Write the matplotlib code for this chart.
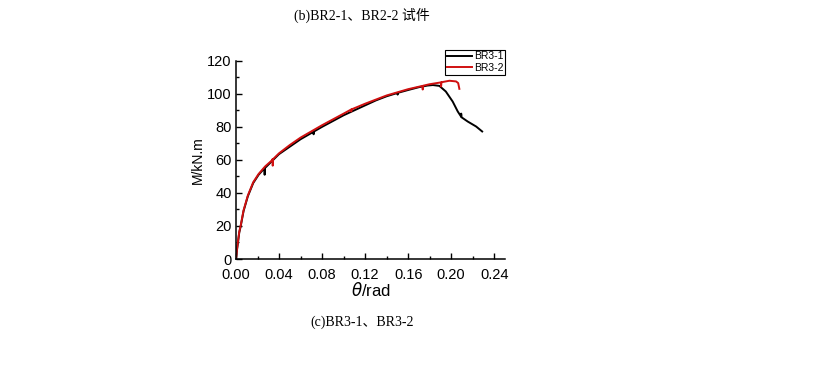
import matplotlib
matplotlib.use('Agg')
import matplotlib.pyplot as plt
from matplotlib.ticker import MultipleLocator

# BR3-1 试件 (black)
theta1 = [0, 0.001, 0.002, 0.003, 0.0044, 0.007, 0.011, 0.016, 0.021, 0.0265,
          0.0266, 0.0268, 0.033, 0.04, 0.05, 0.06, 0.072, 0.0721, 0.0725, 0.08,
          0.09, 0.10, 0.11, 0.12, 0.13, 0.14, 0.15, 0.1502, 0.1505, 0.16,
          0.17, 0.178, 0.183, 0.189, 0.195, 0.2014, 0.2061, 0.2092, 0.2093, 0.2096,
          0.2154, 0.2232, 0.2288]
m1 = [0, 6, 11, 16, 20, 29, 38, 46, 51, 55,
      51, 55, 59, 63.5, 68, 72.5, 77, 75.5, 77.2, 80,
      83.5, 87, 90, 93, 96, 98.5, 100.5, 99.5, 100.6, 102.3,
      104, 105, 105.3, 104.8, 101.4, 95.3, 89.3, 86.2, 88, 85.8,
      83.2, 80.2, 77.2]

# BR3-2 试件 (red)
theta2 = [0, 0.001, 0.002, 0.003, 0.0044, 0.007, 0.011, 0.016, 0.021, 0.027,
          0.033, 0.034, 0.0341, 0.0345, 0.04, 0.05, 0.06, 0.08, 0.10, 0.107,
          0.1071, 0.1075, 0.12, 0.14, 0.16, 0.1734, 0.1735, 0.174, 0.18, 0.1905,
          0.1906, 0.191, 0.1983, 0.2045, 0.2065, 0.2076]
m2 = [0, 6.5, 11.5, 16.5, 20.5, 29.5, 38.5, 46.5, 51.5, 56,
      59.5, 60.5, 56.5, 60.5, 64, 69, 73.5, 81, 88, 90.5,
      89.3, 90.6, 94, 99, 102.8, 104.8, 102.6, 104.9, 105.8, 106.9,
      104.4, 107, 107.9, 107.5, 106.5, 103]

labels = ['BR3-1', 'BR3-2']
title_top = '(b)BR2-1、BR2-2 试件'
caption = '(c)BR3-1、BR3-2'

plt.rcParams['font.family'] = ['Liberation Sans', 'DejaVu Sans']

fig = plt.figure(figsize=(8.15, 3.66), dpi=100)
ax = fig.add_axes([0.2896, 0.2923, 0.33, 0.5417])

ax.plot(theta1, m1, color='black', lw=1.4, label=labels[0])
ax.plot(theta2, m2, color='#d01010', lw=1.4, label=labels[1])

ax.set_xlim(0, 0.25)
ax.set_ylim(0, 120)
ax.xaxis.set_major_locator(MultipleLocator(0.04))
ax.xaxis.set_minor_locator(MultipleLocator(0.02))
ax.yaxis.set_major_locator(MultipleLocator(20))
ax.yaxis.set_minor_locator(MultipleLocator(10))
ax.xaxis.set_major_formatter(plt.FormatStrFormatter('%.2f'))
ax.tick_params(which='major', direction='in', length=4, width=1, labelsize=10.5)
ax.tick_params(axis='x', which='major', pad=6.5)
ax.tick_params(axis='y', which='major', pad=3)
ax.tick_params(which='minor', direction='in', length=2.5, width=1)
ax.spines['top'].set_visible(False)
ax.spines['right'].set_visible(False)
for s in ['left', 'bottom']:
    ax.spines[s].set_linewidth(1.1)

ax.set_xlabel(r'$\mathit{\theta}$/rad', fontsize=12, labelpad=-1)
ax.set_ylabel('M/kN.m', fontsize=10, labelpad=2)

leg = ax.legend(loc='upper right', bbox_to_anchor=(1.0, 1.055), fontsize=7.5,
                frameon=True, fancybox=False, edgecolor='black', framealpha=1,
                handlelength=2.4, borderpad=0.15, labelspacing=0.15,
                handletextpad=0.2, borderaxespad=0)
leg.get_frame().set_linewidth(0.8)

serif = ['Liberation Serif', 'Noto Sans CJK SC']
fig.text(0.444, 0.957, title_top, ha='center', va='center', fontsize=10, family=serif)
fig.text(0.444, 0.12, caption, ha='center', va='center', fontsize=10, family=serif)

fig.savefig('out.png', dpi=100)
